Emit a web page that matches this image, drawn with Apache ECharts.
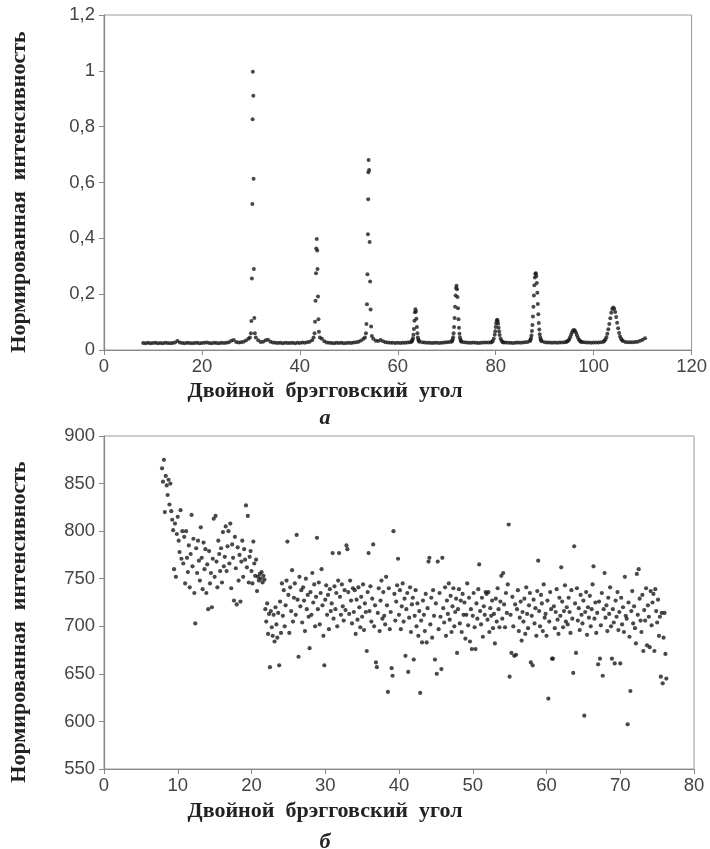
<!DOCTYPE html>
<html>
<head>
<meta charset="utf-8">
<script src="https://cdn.jsdelivr.net/npm/echarts@6.0.0/dist/echarts.min.js"></script>
<style>
  html, body { margin: 0; padding: 0; background: #fff; }
</style>
</head>
<body>
<div id="braggChart" style="width: 710px;height: 849px;"></div>
<script>
// ---- (а) нормированная интенсивность, шаг фона 0,5 град ----
const baseA1 = [.025, .024, .026, .024, .025, .026, .024, .025, .024, .026, .025, .024, .025, .027, .032, .027,
  .025, .024, .026, .025, .024, .025, .026, .024, .025, .026, .027, .025, .024, .026, .025, .024, .026, .025,
  .026, .028, .033, .036, .029, .027, .028, .03, .034, .04]; // 8 .. 29.5
const baseA2 = [.035, .029, .03, .035, .037, .03, .027, .026, .025, .026, .024, .026, .025, .025, .026, .024,
  .026, .025, .027, .026, .028, .03, .035]; // 31.5 .. 42.5
const baseA3 = [.04, .031, .027, .026, .025, .024, .026, .025, .026, .024, .025, .026, .025, .027, .028, .03,
  .034, .04]; // 44.5 .. 53
const baseA4 = [.04, .033, .032, .036, .031, .028, .027, .026, .026, .025, .026, .025, .026, .026, .027, .028]; // 55 .. 62.5
const baseA5 = [.028, .027, .026, .026, .025, .026, .026, .025, .026, .027, .028, .029]; // 65 .. 70.5
const baseA6 = [.028, .027, .026, .026, .027, .026, .025, .026, .027, .027, .027]; // 73.5 .. 78.5
const baseA7 = [.027, .026, .026, .025, .026, .027, .026, .027, .028, .029]; // 82 .. 86.5
const baseA8 = [.028, .027, .027, .026, .027, .026, .027, .027, .028]; // 90 .. 94
const baseA9 = [.028, .027, .027, .026, .027, .027, .027, .028]; // 98 .. 101.5
const baseA10 = [.029, .028, .028, .028, .029, .03, .033, .037, .042]; // 106.5 .. 110.5

const peak30 = [[29.8, .045], [30.0, .06], [30.1, .104], [30.2, .256], [30.3, .523], [30.35, .827], [30.4, .997],
  [30.5, .911], [30.55, .613], [30.6, .29], [30.7, .115], [30.8, .06], [31.0, .045]];
const peak43 = [[42.8, .045], [43.0, .06], [43.1, .101], [43.2, .176], [43.3, .275], [43.35, .364], [43.45, .398],
  [43.55, .356], [43.6, .29], [43.7, .192], [43.8, .11], [43.9, .065], [44.1, .045]];
const peak54 = [[53.3, .045], [53.5, .06], [53.6, .093], [53.7, .164], [53.8, .271], [53.9, .415], [53.95, .54],
  [54.0, .637], [54.05, .681], [54.15, .645], [54.25, .387], [54.35, .245], [54.45, .145], [54.55, .084], [54.7, .05]];
const peak64 = [[62.8, .03], [62.9, .032], [63.0, .036], [63.1, .042], [63.2, .055], [63.3, .075], [63.4, .105],
  [63.5, .135], [63.6, .146], [63.7, .138], [63.8, .112], [63.9, .082], [64.0, .06], [64.1, .045], [64.2, .037],
  [64.3, .033], [64.4, .03]];
const peak72 = [[71.0, .03], [71.1, .033], [71.2, .038], [71.3, .046], [71.4, .06], [71.5, .082], [71.6, .115],
  [71.7, .155], [71.8, .195], [71.9, .222], [72.0, .23], [72.1, .218], [72.2, .19], [72.3, .15], [72.4, .11],
  [72.5, .08], [72.6, .058], [72.7, .045], [72.8, .037], [72.9, .032], [73.0, .03]];
const peak80 = [[79.0, .027], [79.2, .029], [79.4, .032], [79.6, .04], [79.8, .055], [79.9, .067], [80.0, .082],
  [80.1, .096], [80.2, .105], [80.3, .108], [80.4, .104], [80.5, .094], [80.6, .08], [80.7, .066], [80.8, .054],
  [81.0, .04], [81.2, .033], [81.4, .029], [81.6, .027]];
const peak88 = [[87.0, .032], [87.1, .036], [87.2, .042], [87.3, .052], [87.4, .068], [87.5, .09], [87.6, .12],
  [87.7, .155], [87.8, .195], [87.9, .232], [88.0, .26], [88.1, .273], [88.2, .275], [88.3, .265], [88.4, .24],
  [88.5, .205], [88.6, .165], [88.7, .128], [88.8, .097], [88.9, .073], [89.0, .056], [89.1, .045], [89.2, .038],
  [89.3, .034], [89.4, .031]];
const peak96 = [[94.4, .029], [94.6, .031], [94.8, .033], [95.0, .038], [95.2, .046], [95.4, .055], [95.6, .064],
  [95.8, .07], [96.0, .072], [96.2, .069], [96.4, .062], [96.6, .053], [96.8, .044], [97.0, .037], [97.2, .033],
  [97.4, .03], [97.6, .029]];
const peak104 = [[102.0, .03], [102.2, .033], [102.4, .038], [102.6, .046], [102.8, .058], [103.0, .074],
  [103.2, .093], [103.4, .114], [103.6, .133], [103.8, .147], [104.0, .152], [104.2, .148], [104.4, .136],
  [104.6, .118], [104.8, .098], [105.0, .078], [105.2, .061], [105.4, .048], [105.6, .04], [105.8, .035], [106.0, .032]];

// ---- (б) интенсивность, угол от 7.875 с шагом 0.125 ----
const startB = 7.875;
const stepB = 0.125;
const intensityB = [
  866, 852, 875, 820, 858, 848, 838, 854, // 8
  828, 850, 821, 812, 801, 760, 808, 752, // 9
  797, 815, 790, 778, 822, 771, 800, 766, // 10
  794, 745, 800, 772, 757, 785, 741, 776, // 11
  817, 763, 792, 735, 703, 782, 756, 790, // 12
  769, 748, 804, 772, 739, 788, 760, 781, // 13
  735, 765, 718, 779, 745, 756, 720, 771, // 14
  813, 752, 816, 768, 741, 790, 776, 758, // 15
  782, 746, 799, 763, 773, 805, 758, 784, // 16
  800, 766, 808, 740, 786, 772, 727, 794, // 17
  761, 723, 783, 748, 775, 726, 768, 790, // 18
  752, 781, 770, 827, 762, 816, 746, 773, // 19
  779, 758, 745, 789, 766, 753, 770, 737, // 20
  752, 748, 755, 750, 757, 746, 753, 749, // 21
  718, 705, 724, 692, 713, 657, 716, 699, // 22
  690, 712, 684, 720, 702, 688, 714, 659, // 23
  726, 693, 745, 711, 738, 700, 722, 748, // 24
  789, 733, 693, 741, 716, 759, 705, 730, // 25
  745, 712, 796, 728, 668, 752, 721, 738, // 26
  704, 741, 727, 695, 750, 718, 733, 710, // 27
  677, 736, 712, 756, 725, 744, 700, 731, // 28
  793, 718, 746, 702, 735, 760, 722, 690, // 29
  659, 728, 743, 712, 733, 697, 739, 716, // 30
  724, 777, 708, 742, 718, 735, 700, 748, // 31
  777, 731, 712, 744, 721, 706, 738, 717, // 32
  785, 781, 736, 713, 748, 727, 703, 740, // 33
  715, 738, 692, 728, 707, 741, 720, 699, // 34
  731, 710, 744, 696, 724, 715, 674, 736, // 35
  777, 716, 742, 705, 729, 786, 700, 722, // 36
  662, 657, 714, 740, 695, 727, 748, 708, // 37
  736, 711, 702, 752, 722, 631, 740, 697, // 38
  715, 656, 648, 800, 734, 706, 726, 743, // 39
  771, 712, 738, 697, 721, 745, 705, 729, // 40
  669, 718, 735, 652, 709, 741, 694, 723, // 41
  730, 665, 711, 738, 700, 724, 690, 716, // 42
  630, 706, 683, 727, 712, 695, 734, 683, // 43
  719, 768, 772, 702, 730, 688, 738, 711, // 44
  665, 724, 650, 768, 697, 735, 710, 655, // 45
  772, 719, 704, 741, 690, 727, 713, 745, // 46
  707, 732, 694, 721, 740, 700, 715, 729, // 47
  672, 718, 739, 703, 727, 694, 734, 712, // 48
  725, 687, 712, 745, 701, 730, 684, 718, // 49
  676, 711, 735, 699, 676, 724, 708, 739, // 50
  765, 716, 702, 730, 689, 721, 712, 736, // 51
  734, 707, 736, 694, 719, 711, 727, 698, // 52
  713, 682, 729, 705, 740, 718, 699, 726, // 53
  753, 708, 756, 723, 699, 735, 714, 744, // 54
  807, 647, 712, 672, 731, 700, 669, 723, // 55
  670, 718, 738, 695, 709, 726, 685, 715, // 56
  705, 729, 692, 741, 713, 698, 722, 735, // 57
  662, 711, 659, 728, 703, 719, 690, 737, // 58
  769, 716, 700, 733, 724, 695, 744, 709, // 59
  713, 690, 727, 624, 705, 736, 718, 666, // 60
  666, 721, 698, 715, 739, 707, 692, 730, // 61
  711, 762, 726, 699, 716, 743, 705, 720, // 62
  702, 730, 715, 693, 738, 708, 651, 784, // 63
  724, 672, 740, 706, 719, 696, 733, 712, // 64
  703, 727, 606, 715, 736, 691, 720, 709, // 65
  732, 700, 718, 744, 763, 708, 725, 693, // 66
  714, 660, 726, 666, 701, 735, 648, 718, // 67
  756, 709, 722, 695, 730, 713, 741, 700, // 68
  666, 718, 704, 661, 727, 710, 736, 696, // 69
  715, 661, 730, 702, 720, 694, 752, 711, // 70
  708, 597, 725, 689, 632, 716, 737, 703, // 71
  721, 698, 682, 755, 712, 760, 729, 706, // 72
  694, 733, 674, 717, 706, 740, 680, 722, // 73
  710, 678, 737, 701, 725, 734, 674, 739, // 74
  716, 704, 728, 690, 710, 647, 714, 640, // 75
  688, 714, 671, 645                      // 76
];

const xTicksA = [0, 120, 20];
const yTicksA = [0, 1.2, 0.2];
const xTicksB = [0, 80, 10];
const yTicksB = [550, 900, 50];

const axisTitle = 'Двойной  брэгговский  угол';
const yTitle = 'Нормированная  интенсивность';

function run(start, values) {
  return values.map(function (v, i) { return [start + i * 0.5, v]; });
}

const scanA = [].concat(
  run(8, baseA1), peak30, run(31.5, baseA2), peak43, run(44.5, baseA3), peak54,
  run(55, baseA4), peak64, run(65, baseA5), peak72, run(73.5, baseA6), peak80,
  run(82, baseA7), peak88, run(90, baseA8), peak96, run(98, baseA9), peak104, run(106.5, baseA10)
);
const scanB = intensityB.map(function (v, i) { return [startB + i * stepB, v]; });

const tickFont = {fontFamily: 'Liberation Sans', fontSize: 18.5, color: '#444'};
const serifBold = 'bold 22px "Liberation Serif"';

function xAxisOf(gridIndex, t) {
  return {
    gridIndex: gridIndex, type: 'value', min: t[0], max: t[1], interval: t[2],
    axisLine: {lineStyle: {color: '#888', width: 1.2}},
    axisTick: {inside: false, length: 5, lineStyle: {color: '#888'}},
    axisLabel: Object.assign({margin: 7}, tickFont),
    splitLine: {show: false}
  };
}

function yAxisOf(gridIndex, t, comma) {
  return {
    gridIndex: gridIndex, type: 'value', min: t[0], max: t[1], interval: t[2],
    axisLine: {show: true, lineStyle: {color: '#888', width: 1.2}},
    axisTick: {show: true, inside: false, length: 5, lineStyle: {color: '#888'}},
    axisLabel: Object.assign({
      margin: 9,
      formatter: function (value) {
        return comma ? String(+value.toFixed(1)).replace('.', ',') : String(value);
      }
    }, tickFont),
    splitLine: {show: false}
  };
}

let option = {
  backgroundColor: '#fff',
  animation: false,
  grid: [
    {left: 104, top: 15, width: 591, height: 335, show: true, borderColor: '#999', borderWidth: 1},
    {left: 104, top: 436, width: 590, height: 333, show: true, borderColor: '#999', borderWidth: 1}
  ],
  xAxis: [xAxisOf(0, xTicksA), xAxisOf(1, xTicksB)],
  yAxis: [yAxisOf(0, yTicksA, true), yAxisOf(1, yTicksB, false)],
  series: [
    {
      type: 'scatter', xAxisIndex: 0, yAxisIndex: 0, data: scanA,
      symbolSize: 4, itemStyle: {color: '#1c1c1c'}
    },
    {
      type: 'scatter', xAxisIndex: 1, yAxisIndex: 1, data: scanB,
      symbolSize: 4.2, itemStyle: {color: '#1c1c1c'}
    }
  ],
  graphic: [
    {type: 'text', x: 325, y: 391, style: {text: axisTitle, font: serifBold, fill: '#222', textAlign: 'center', textVerticalAlign: 'middle'}},
    {type: 'text', x: 325, y: 418, style: {text: 'а', font: 'italic bold 22px "Liberation Serif"', fill: '#222', textAlign: 'center', textVerticalAlign: 'middle'}},
    {type: 'text', x: 19, y: 192, rotation: Math.PI / 2, style: {text: yTitle, font: serifBold, fill: '#222', textAlign: 'center', textVerticalAlign: 'middle'}},
    {type: 'text', x: 325, y: 811, style: {text: axisTitle, font: serifBold, fill: '#222', textAlign: 'center', textVerticalAlign: 'middle'}},
    {type: 'text', x: 325, y: 842, style: {text: 'б', font: 'italic bold 22px "Liberation Serif"', fill: '#222', textAlign: 'center', textVerticalAlign: 'middle'}},
    {type: 'text', x: 19, y: 622, rotation: Math.PI / 2, style: {text: yTitle, font: serifBold, fill: '#222', textAlign: 'center', textVerticalAlign: 'middle'}}
  ]
};

let braggChart = echarts.init(document.getElementById('braggChart'), null, {width: 710, height: 849});
braggChart.setOption(option);
</script>
</body>
</html>
